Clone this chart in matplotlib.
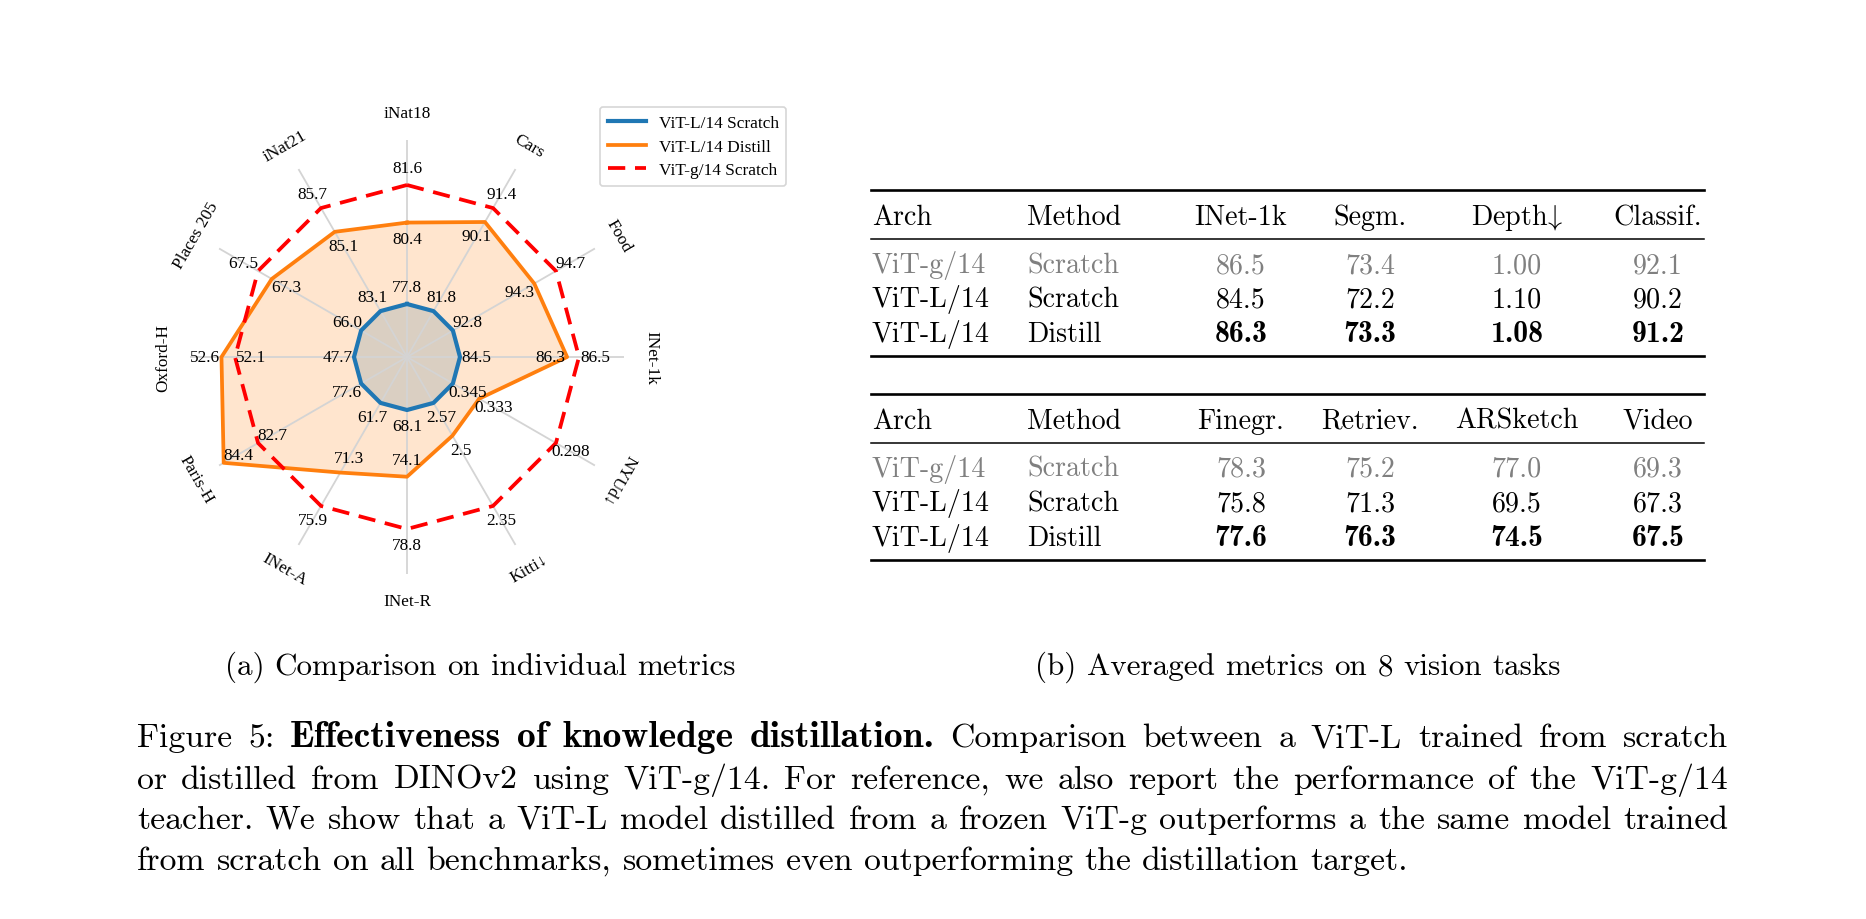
import numpy as np
import matplotlib
matplotlib.use('Agg')
import matplotlib.pyplot as plt
from matplotlib.lines import Line2D

plt.rcParams['mathtext.fontset'] = 'cm'
plt.rcParams['axes.unicode_minus'] = False

# ---------------- data ----------------
categories = ['iNat18', 'Cars', 'Food', 'INet-1k', 'NYUd↓', 'Kitti↓', 'INet-R',
              'INet-A', 'Paris-H', 'Oxford-H', 'Places 205', 'iNat21']
vitl_scratch = [77.8, 81.8, 92.8, 84.5, 0.345, 2.57, 68.1, 61.7, 77.6, 47.7, 66.0, 83.1]
vitl_distill = [80.4, 90.1, 94.3, 86.3, 0.333, 2.5, 74.1, 71.3, 84.4, 52.6, 67.3, 85.1]
vitg_scratch = [81.6, 91.4, 94.7, 86.5, 0.298, 2.35, 78.8, 75.9, 82.7, 52.1, 67.5, 85.7]
series_names = ['ViT-L/14 Scratch', 'ViT-L/14 Distill', 'ViT-g/14 Scratch']

table_archs = ['ViT-g/14', 'ViT-L/14', 'ViT-L/14']
table_methods = ['Scratch', 'Scratch', 'Distill']
table1_cols = ['INet-1k', 'Segm.', 'Depth$\\!\\downarrow$', 'Classif.']
table1_vals = [['86.5', '73.4', '1.00', '92.1'],
               ['84.5', '72.2', '1.10', '90.2'],
               ['86.3', '73.3', '1.08', '91.2']]
table2_cols = ['Finegr.', 'Retriev.', 'ARSketch', 'Video']
table2_vals = [['78.3', '75.2', '77.0', '69.3'],
               ['75.8', '71.3', '69.5', '67.3'],
               ['77.6', '76.3', '74.5', '67.5']]

subcaption_a = '(a) Comparison on individual metrics'
subcaption_b = '(b) Averaged metrics on 8 vision tasks'
caption_lines = [
    [('Figure', 0), ('5:', 0), ('Effectiveness', 1), ('of', 1), ('knowledge', 1),
     ('distillation.', 1), ('Comparison', 0), ('between', 0), ('a', 0), ('ViT-L', 0),
     ('trained', 0), ('from', 0), ('scratch', 0)],
    [(w, 0) for w in 'or distilled from DINOv2 using ViT-g/14. For reference, we also report the performance of the ViT-g/14'.split()],
    [(w, 0) for w in 'teacher. We show that a ViT-L model distilled from a frozen ViT-g outperforms a the same model trained'.split()],
    [(w, 0) for w in 'from scratch on all benchmarks, sometimes even outperforming the distillation target.'.split()],
]

# ---------------- figure ----------------
W, H = 1866, 920
fig = plt.figure(figsize=(W / 100, H / 100), dpi=100)
fig.patch.set_facecolor('white')
PX = 100 / 72.0

def fy(y):
    return 1 - y / H

def fx(x):
    return x / W

# ---------------- radar ----------------
cx, cy, RPX = 407, 358, 217
ax = fig.add_axes([fx(cx - RPX), fy(cy + RPX), 2 * RPX / W, 2 * RPX / H], projection='polar')
ax.set_theta_offset(np.pi / 2)
ax.set_theta_direction(-1)
ax.set_facecolor('none')
n = len(categories)
theta = np.arange(n) * 2 * np.pi / n
R_IN, R_OUT, R_MAX = 53 / 172, 1.0, 217 / 172

lo = np.array(vitl_scratch)
hi = np.array(vitg_scratch)

def norm(v):
    return R_IN + (np.array(v) - lo) / (hi - lo) * (R_OUT - R_IN)

r_blue, r_orange, r_red = norm(vitl_scratch), norm(vitl_distill), norm(vitg_scratch)
tc = np.append(theta, theta[0])

def close(a):
    return np.append(a, a[0])

ax.fill(tc, close(r_blue), color='#1f77b4', alpha=0.2, lw=0, zorder=1)
ax.fill(tc, close(r_orange), color='#ff7f0e', alpha=0.2, lw=0, zorder=1.1)
ax.plot(tc, close(r_blue), color='#1f77b4', lw=3.0, zorder=3, label=series_names[0])
ax.plot(tc, close(r_orange), color='#ff7f0e', lw=2.7, zorder=3, label=series_names[1])
ax.plot(tc, close(r_red), color='#ff0000', lw=2.7, ls=(0, (4.6, 2.6)), zorder=3, label=series_names[2])

ax.set_xticks(theta)
ax.set_xticklabels([])
ax.set_yticks([])
ax.set_ylim(0, R_MAX)
ax.spines['polar'].set_visible(False)
ax.grid(axis='x', color='#d4d4d4', lw=1.3)
ax.grid(axis='y', visible=False)
ax.tick_params(axis='x', length=0, pad=0)

FONT_R = ['Liberation Serif', 'DejaVu Serif']
NUM_SIZE = 12.4
d = 16.5 / 172
blue_dir = [1] * 12
orange_dir = [-1, -1, -1, -1, 1, 1, -1, -1, -1, 1, -1, -1]
red_dir = [1, 1, 1, 1, 1, 1, 1, 1, -1, -1, 1, 1]
for vals, rr, dirs in [(vitl_scratch, r_blue, blue_dir), (vitl_distill, r_orange, orange_dir),
                       (vitg_scratch, r_red, red_dir)]:
    for i in range(n):
        ax.text(theta[i], rr[i] + dirs[i] * d, str(vals[i]), ha='center', va='center',
                fontsize=NUM_SIZE, family=FONT_R, zorder=5)

R_LAB = 244 / 172
for i, cat in enumerate(categories):
    deg = 90 - np.degrees(theta[i])
    deg = (deg + 180) % 360 - 180
    if deg <= -179.9:
        deg += 360
    rot = deg - 90
    if rot < -135:
        rot += 180
    ax.text(theta[i], R_LAB, cat, ha='center', va='center', rotation=rot,
            rotation_mode='anchor', fontsize=NUM_SIZE, family=FONT_R)

handles = [Line2D([], [], color='#1f77b4', lw=3.0),
           Line2D([], [], color='#ff7f0e', lw=2.7),
           Line2D([], [], color='#ff0000', lw=2.7, ls=(0, (4.6, 2.6)))]
leg = fig.legend(handles, series_names, loc='upper left', bbox_to_anchor=(fx(600), fy(108)),
                 prop={'family': FONT_R, 'size': 12.4}, handlelength=2.2, handletextpad=0.75,
                 labelspacing=0.45, borderpad=0.45, borderaxespad=0, frameon=True, fancybox=True)
leg.get_frame().set_edgecolor('#cccccc')
leg.get_frame().set_linewidth(1.2)

# ---------------- text helpers ----------------
renderer = fig.canvas.get_renderer()
BOLD_SCALE = 1.11

def place_words(words, y, size, x0=None, width=None, center=None, color='black'):
    arts = [fig.text(0, 0, w, fontsize=size * (BOLD_SCALE if b else 1.0),
                     family='cmb10' if b else 'cmr10', color=color,
                     transform=fig.transFigure, ha='left', va='baseline') for w, b in words]
    widths = [a.get_window_extent(renderer).width for a in arts]
    sp = 0.333 * size * PX
    if width is not None and len(arts) > 1:
        sp = (width - sum(widths)) / (len(arts) - 1)
    total = sum(widths) + sp * (len(arts) - 1)
    if center is not None:
        x0 = center - total / 2
    x = x0
    for a, w in zip(arts, widths):
        a.set_position((fx(x), fy(y)))
        x += w + sp

# ---------------- tables ----------------
TSIZE = 20.2
X0, X1 = 871, 1704
arch_x, method_x = 872, 1027
col_x = [1241, 1370, 1517, 1658]
row_colors = ['#808080', 'black', 'black']
row_bold = [False, False, True]

def draw_table(top, cols, vals):
    fig.add_artist(Line2D([fx(X0), fx(X1)], [fy(top), fy(top)], transform=fig.transFigure, color='black', lw=1.9))
    hb = top + 34
    fig.text(fx(arch_x), fy(hb), 'Arch', fontsize=TSIZE, family='cmr10', va='baseline', ha='left')
    fig.text(fx(method_x), fy(hb), 'Method', fontsize=TSIZE, family='cmr10', va='baseline', ha='left')
    for c, x in zip(cols, col_x):
        fig.text(fx(x), fy(hb), c, fontsize=TSIZE, family='cmr10', va='baseline', ha='center')
    mid = top + 49
    fig.add_artist(Line2D([fx(X0), fx(X1)], [fy(mid), fy(mid)], transform=fig.transFigure, color='black', lw=1.1))
    for r in range(3):
        yb = top + 82 + r * 34.5
        col = row_colors[r]
        fig.text(fx(arch_x), fy(yb), table_archs[r], fontsize=TSIZE, family='cmr10', color=col, va='baseline', ha='left')
        fig.text(fx(method_x), fy(yb), table_methods[r], fontsize=TSIZE, family='cmr10', color=col, va='baseline', ha='left')
        for v, x in zip(vals[r], col_x):
            fig.text(fx(x), fy(yb), v, fontsize=TSIZE * (1.06 if row_bold[r] else 1.0),
                     family='cmb10' if row_bold[r] else 'cmr10',
                     color=col, va='baseline', ha='center')
    bot = top + 166
    fig.add_artist(Line2D([fx(X0), fx(X1)], [fy(bot), fy(bot)], transform=fig.transFigure, color='black', lw=1.9))

draw_table(191, table1_cols, table1_vals)
draw_table(395, table2_cols, table2_vals)

# ---------------- captions ----------------
SUBSIZE = 22.4
place_words([(w, 0) for w in subcaption_a.split()], 675, SUBSIZE, center=480)
place_words([(w, 0) for w in subcaption_b.split()], 675, SUBSIZE, center=1298)

CSIZE = 24.3
cap_y = [747, 789, 829, 870]
for i, line in enumerate(caption_lines):
    if i < len(caption_lines) - 1:
        place_words(line, cap_y[i], CSIZE, x0=137, width=1728 - 137)
    else:
        place_words(line, cap_y[i], CSIZE, x0=137)

fig.savefig('out.png', dpi=100, facecolor='white')
